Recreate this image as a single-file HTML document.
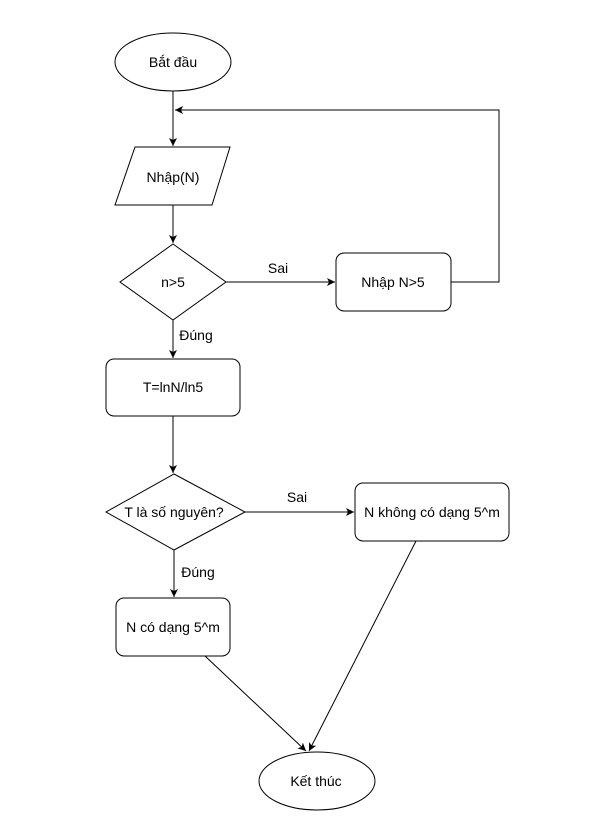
<!DOCTYPE html>
<html><head><meta charset="utf-8"><style>body{margin:0;background:#fff}svg{display:block}text{font-family:"Liberation Sans",sans-serif;font-size:14px;fill:#000}</style></head><body>
<svg width="596" height="839" viewBox="0 0 596 839" xmlns="http://www.w3.org/2000/svg">
<defs><marker id="a" markerWidth="10" markerHeight="10" refX="8" refY="5" orient="auto" markerUnits="userSpaceOnUse"><path d="M0,1 L8,5 L0,9 L2,5 Z" fill="#000"/></marker></defs>
<g fill="none" stroke="#000" stroke-width="1">
<ellipse cx="173" cy="62" rx="58" ry="29" fill="#fff"/>
<polygon points="135,147 230,147 212,205 115,205" fill="#fff"/>
<polygon points="173,244 226,282 173,320 120,282" fill="#fff"/>
<rect x="336" y="253" width="115" height="58" rx="8" fill="#fff"/>
<rect x="106" y="359" width="134" height="57" rx="8" fill="#fff"/>
<polygon points="174,474 245,512 174,550 106,512" fill="#fff"/>
<rect x="355" y="483" width="154" height="58" rx="8" fill="#fff"/>
<rect x="116" y="598" width="114" height="58" rx="8" fill="#fff"/>
<ellipse cx="317" cy="781" rx="58" ry="29" fill="#fff"/>
<line x1="173" y1="91" x2="173" y2="146" marker-end="url(#a)"/>
<polyline points="451,282 499,282 499,110 175,110" marker-end="url(#a)"/>
<line x1="173" y1="205" x2="173" y2="243" marker-end="url(#a)"/>
<line x1="226" y1="282" x2="335" y2="282" marker-end="url(#a)"/>
<line x1="173" y1="320" x2="173" y2="358" marker-end="url(#a)"/>
<line x1="173" y1="416" x2="173" y2="473" marker-end="url(#a)"/>
<line x1="245" y1="512" x2="354" y2="512" marker-end="url(#a)"/>
<line x1="174" y1="550" x2="174" y2="597" marker-end="url(#a)"/>
<line x1="205" y1="656" x2="306" y2="751" marker-end="url(#a)"/>
<line x1="416" y1="541" x2="309" y2="751" marker-end="url(#a)"/>
</g>
<g text-anchor="middle">
<text x="173" y="67">Bắt đầu</text>
<text x="173" y="182">Nhập(N)</text>
<text x="173" y="287">n&gt;5</text>
<text x="393" y="287">Nhập N&gt;5</text>
<text x="173" y="392">T=lnN/ln5</text>
<text x="174" y="517">T là số nguyên?</text>
<text x="432" y="517">N không có dạng 5^m</text>
<text x="173" y="632">N có dạng 5^m</text>
<text x="316" y="786">Kết thúc</text>
<text x="278" y="273">Sai</text>
<text x="297" y="502">Sai</text>
<text x="196" y="340">Đúng</text>
<text x="198" y="577">Đúng</text>
</g>
</svg>
</body></html>
